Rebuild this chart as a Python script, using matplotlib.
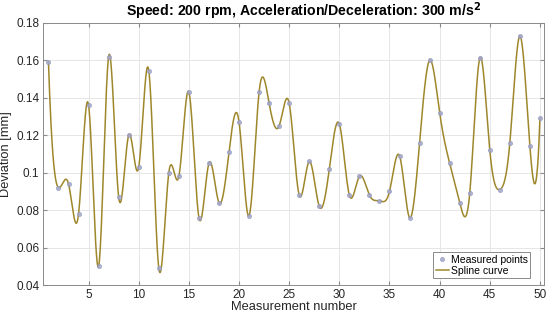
import numpy as np
import matplotlib
matplotlib.use("Agg")
import matplotlib.pyplot as plt

plt.rcParams['font.family'] = ['Liberation Sans', 'DejaVu Sans']

measurement = list(range(1, 51))
deviation = [0.159, 0.092, 0.094, 0.078, 0.136, 0.050, 0.162, 0.087, 0.120, 0.103,
             0.1545, 0.049, 0.100, 0.098, 0.143, 0.076, 0.105, 0.084, 0.111, 0.127,
             0.077, 0.143, 0.137, 0.125, 0.137, 0.088, 0.106, 0.082, 0.102, 0.126,
             0.088, 0.098, 0.088, 0.085, 0.090, 0.109, 0.076, 0.116, 0.160, 0.132,
             0.105, 0.084, 0.089, 0.161, 0.112, 0.091, 0.116, 0.173, 0.114, 0.129]
xticks = [5, 10, 15, 20, 25, 30, 35, 40, 45, 50]
yticks = [0.04, 0.06, 0.08, 0.1, 0.12, 0.14, 0.16, 0.18]
ytick_labels = ['0.04', '0.06', '0.08', '0.1', '0.12', '0.14', '0.16', '0.18']


def notaknot_spline(x, y, xq):
    x = np.asarray(x, float); y = np.asarray(y, float)
    n = len(x)
    h = np.diff(x)
    A = np.zeros((n, n)); b = np.zeros(n)
    for i in range(1, n - 1):
        A[i, i - 1] = h[i - 1]
        A[i, i] = 2 * (h[i - 1] + h[i])
        A[i, i + 1] = h[i]
        b[i] = 6 * ((y[i + 1] - y[i]) / h[i] - (y[i] - y[i - 1]) / h[i - 1])
    A[0, 0] = h[1]; A[0, 1] = -(h[0] + h[1]); A[0, 2] = h[0]
    A[-1, -3] = h[-1]; A[-1, -2] = -(h[-2] + h[-1]); A[-1, -1] = h[-2]
    M = np.linalg.solve(A, b)
    idx = np.clip(np.searchsorted(x, xq) - 1, 0, n - 2)
    x0 = x[idx]; x1 = x[idx + 1]; hh = x1 - x0
    t0 = x1 - xq; t1 = xq - x0
    return (M[idx] * t0 ** 3 / (6 * hh) + M[idx + 1] * t1 ** 3 / (6 * hh)
            + (y[idx] / hh - M[idx] * hh / 6) * t0
            + (y[idx + 1] / hh - M[idx + 1] * hh / 6) * t1)


xs = np.linspace(1, 50, 2000)
ys = notaknot_spline(measurement, deviation, xs)

fig = plt.figure(figsize=(5.5, 3.21), dpi=100)
ax = fig.add_axes([0.079, 0.112, 0.910, 0.817])
ax.plot(measurement, deviation, 'o', ms=3.0, color='#a3a7cc', mec='#9397bb', mew=0.5,
        alpha=0.85, label='Measured points', zorder=3)
ax.plot(xs, ys, '-', color='#9e872b', lw=1.1, label='Spline curve', zorder=2)

ax.set_xlim(0.5, 50.4)
ax.set_ylim(0.04, 0.18)
ax.set_xticks(xticks)
ax.set_yticks(yticks)
ax.set_yticklabels(ytick_labels)
ax.grid(True, color='#e6e6e6', lw=0.7)
ax.set_axisbelow(True)
for s in ax.spines.values():
    s.set_color('#8a8a8a')
    s.set_linewidth(0.7)
ax.tick_params(direction='in', length=3, color='#8a8a8a', labelsize=8.5,
               labelcolor='#262626', top=True, right=True, pad=3)
ax.set_xlabel('Measurement number', fontsize=9.3, labelpad=0, color='#262626')
ax.set_ylabel('Deviation [mm]', fontsize=9.3, labelpad=3, color='#262626')
ax.set_title('Speed: 200 rpm, Acceleration/Deceleration: 300 m/s$^\\mathbf{2}$',
             fontsize=10.2, fontweight='bold', pad=5, x=0.52)
leg = ax.legend(loc='lower right', bbox_to_anchor=(0.973, 0.025), fontsize=7.5,
                frameon=True, fancybox=False, framealpha=1,
                edgecolor='#8a8a8a', borderpad=0.25, handlelength=1.3,
                handletextpad=0.15, labelspacing=0.1, borderaxespad=0.0)
leg.get_frame().set_linewidth(0.7)
fig.savefig('out.png', dpi=100)
